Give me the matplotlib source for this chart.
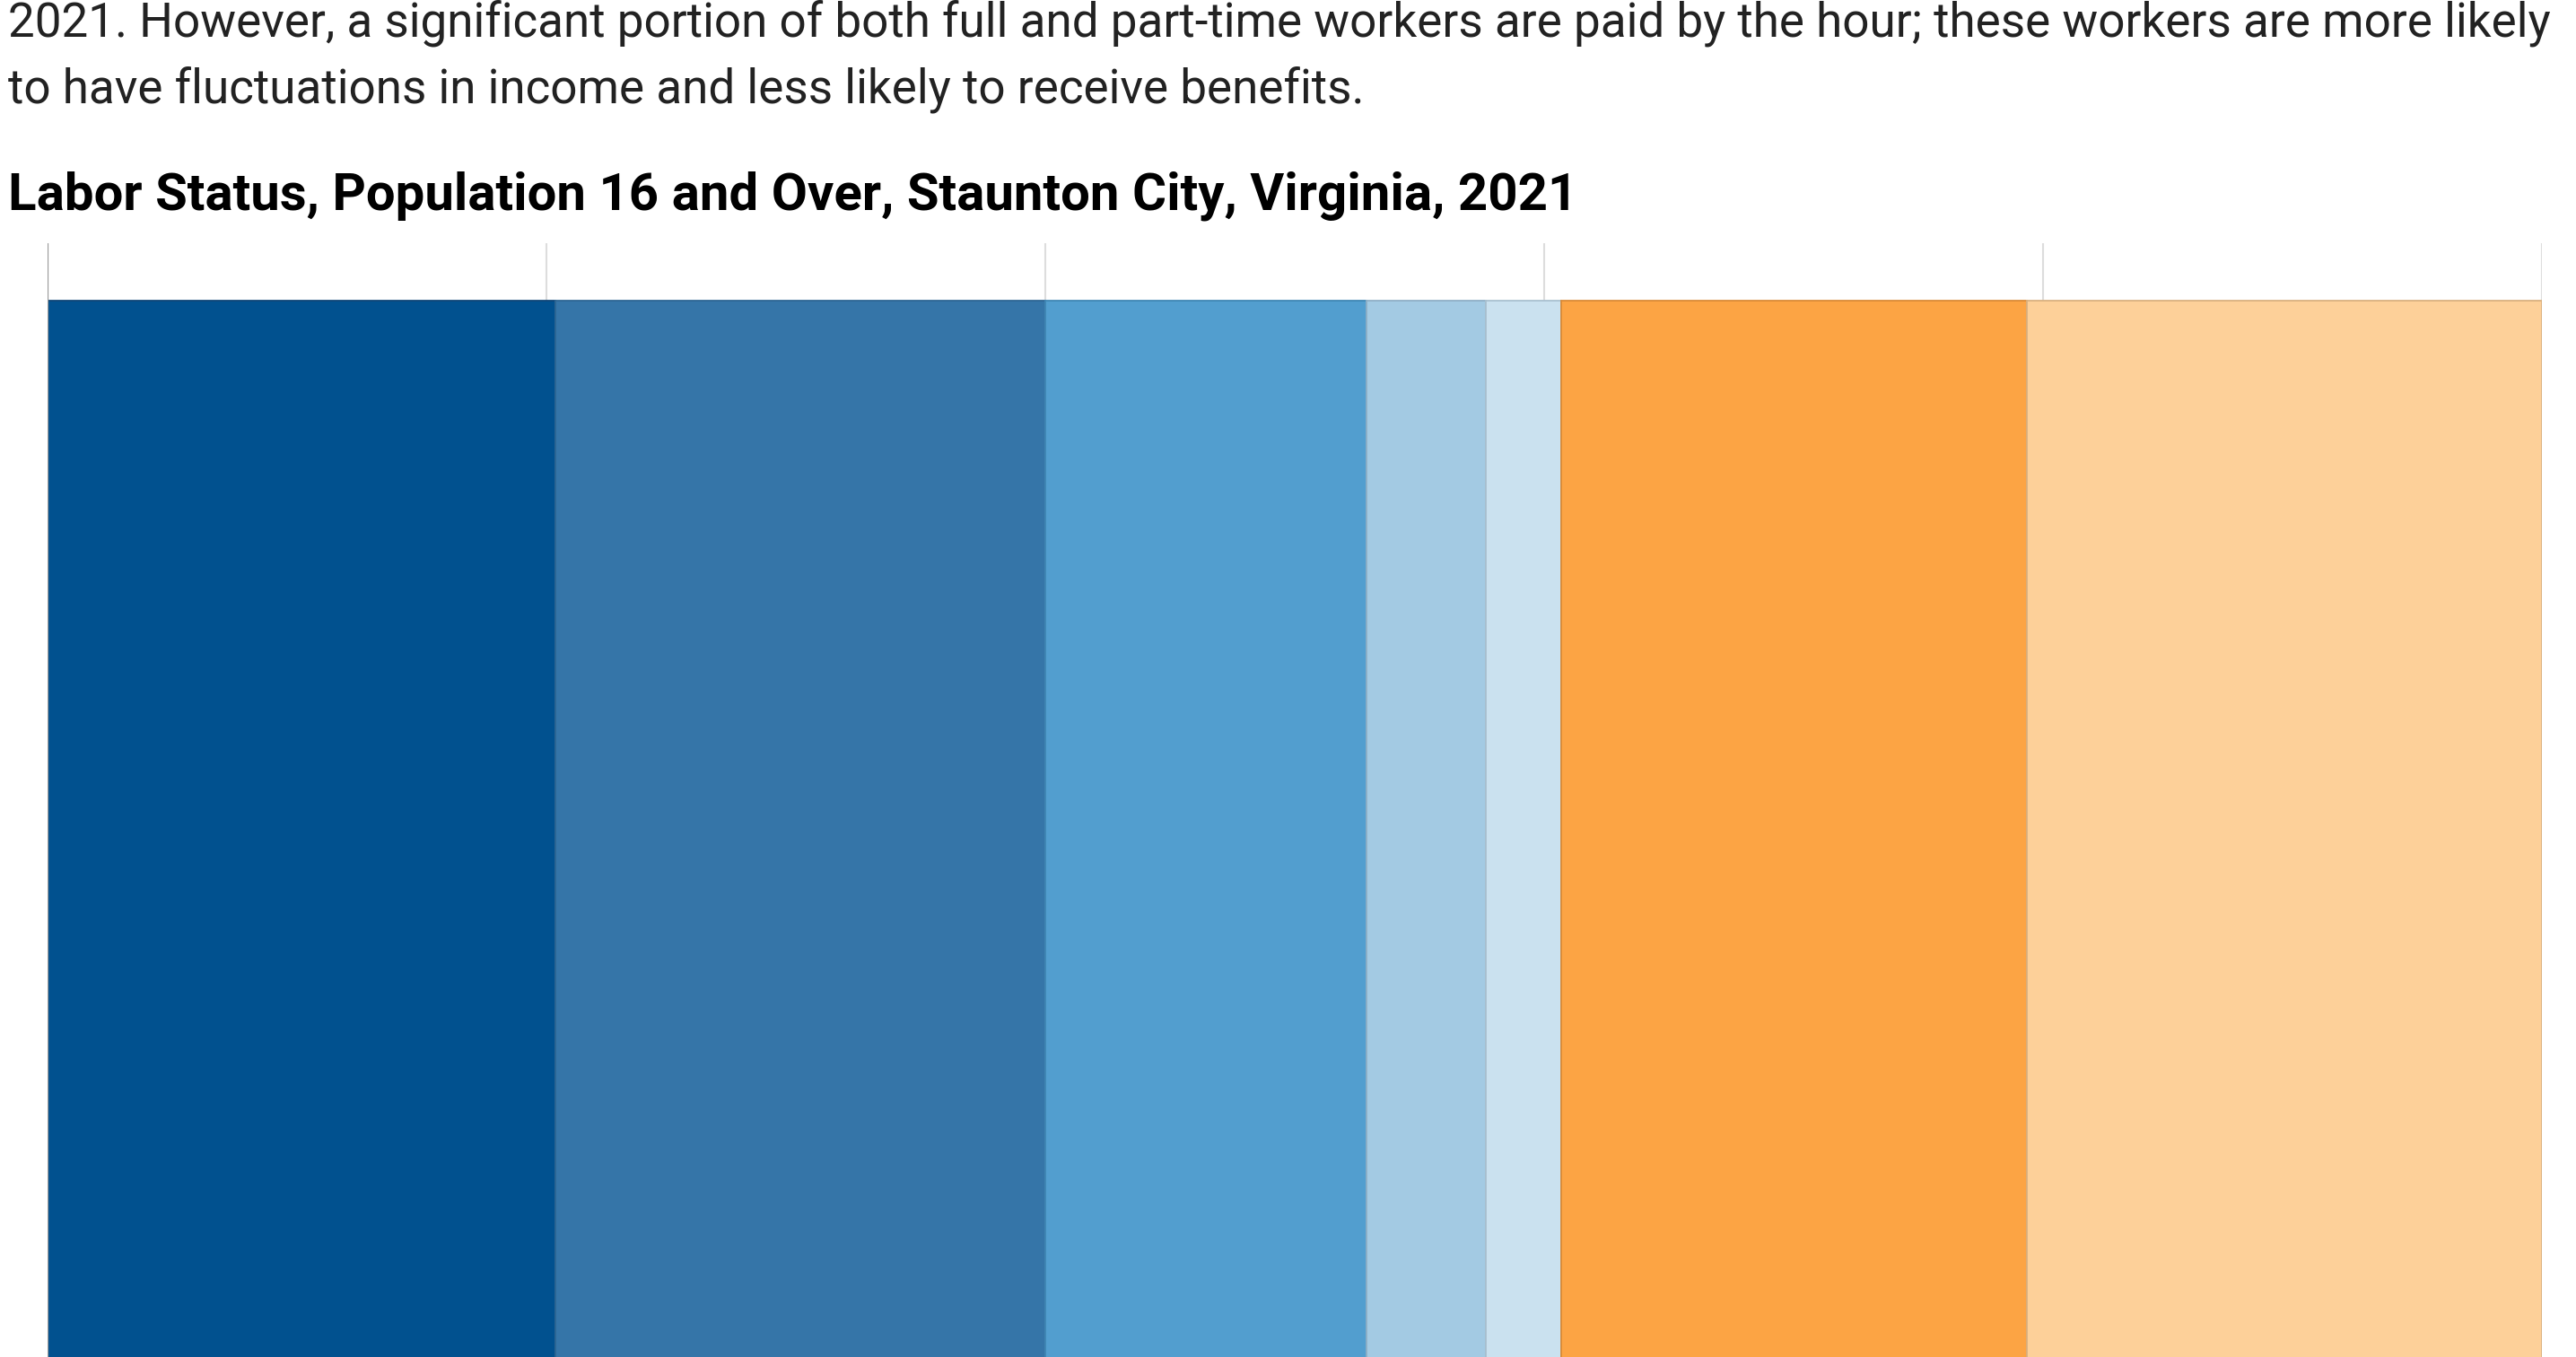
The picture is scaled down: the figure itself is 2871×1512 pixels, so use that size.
import numpy as np
import matplotlib
matplotlib.use("Agg")
from matplotlib import pyplot as plt

# labor status shares (percent of population 16+)
categories = ["Full-time, salaried", "Full-time, hourly", "Part-time, salaried",
              "Part-time, hourly", "Unemployed", "Not in labor force, under 65",
              "Not in labor force, 65+"]
shares = [20.36, 19.63, 12.89, 4.78, 3.04, 18.65, 20.65]
colors = ["#01518F", "#3575A8", "#529ECF", "#A3CAE3", "#CAE1EF", "#FCA444", "#FDD099"]
edges = ["#0F4577", "#2D6693", "#3F86B4", "#8FAFC6", "#A9C0CF", "#DA8A36", "#D9B080"]
grid_ticks = [0, 20, 40, 60, 80, 100]

body_lines = ["2021. However, a significant portion of both full and part-time workers are paid by the hour; "
              "these workers are more likely",
              "to have fluctuations in income and less likely to receive benefits."]
body_baselines = [41, 115]
title = "Labor Status, Population 16 and Over, Staunton City, Virginia, 2021"

W, H, dpi = 2871, 1512, 100
plt.rcParams['font.family'] = ['Roboto', 'DejaVu Sans']
fig = plt.figure(figsize=(W / dpi, H / dpi), dpi=dpi)

for line, yb in zip(body_lines, body_baselines):
    fig.text(9 / W, 1 - yb / H, line, fontsize=38.2, color="#222222", va="baseline", ha="left")
fig.text(9 / W, 1 - 233 / H, title, fontsize=41.9, fontweight="bold", color="#000000",
         va="baseline", ha="left")

# axes runs off the bottom of the figure, like the cropped original
ax_h = 3200
ax = fig.add_axes([53 / W, (H - 271 - ax_h) / H, 2780 / W, ax_h / H])
ax.set_xlim(0, 100)
ax.set_ylim(-0.5, 0.5)

for t in grid_ticks[1:]:
    ax.axvline(t, color="#DDDDDD", lw=1.5, zorder=0)

left = 0
for name, val, c, e in zip(categories, shares, colors, edges):
    ax.barh(0, val, left=left, height=0.96, color=c, edgecolor=e, lw=1.3, label=name, zorder=2)
    left += val

ax.axvline(0, color="#999999", lw=1.6, zorder=3)
for s in ax.spines.values():
    s.set_visible(False)
ax.set_xticks([])
ax.set_yticks([])

fig.savefig("out.png", dpi=dpi, facecolor="white")
